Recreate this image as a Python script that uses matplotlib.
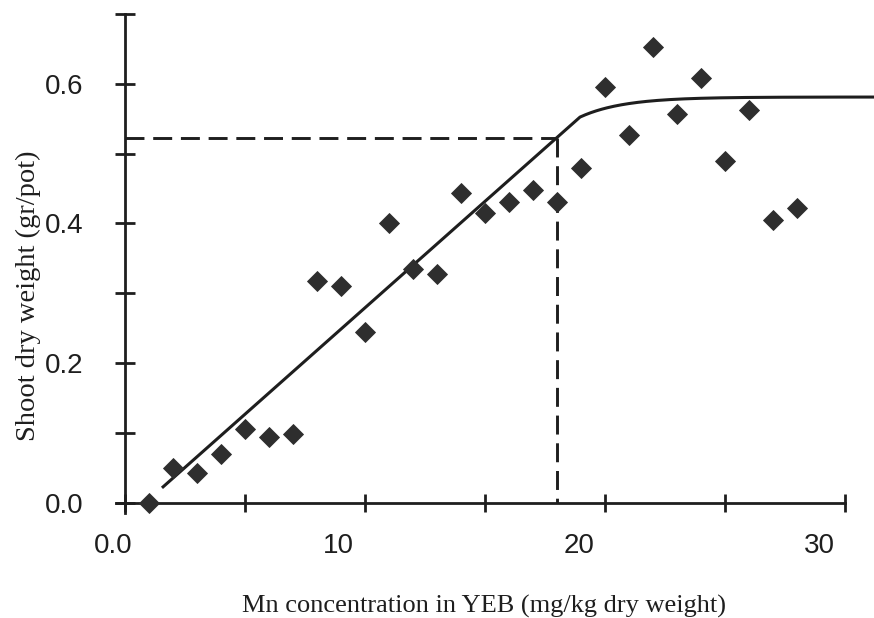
import numpy as np
import matplotlib
matplotlib.use('Agg')
import matplotlib.pyplot as plt
from matplotlib.ticker import FixedLocator, FixedFormatter, NullFormatter

# Observed points (Mn in YEB vs shoot dry weight)
mn_conc = [1, 2, 3, 4, 5, 6, 7, 8, 9, 10, 11, 12, 13, 14,
           15, 16, 17, 18, 19, 20, 21, 22, 23, 24, 25, 26, 27, 28]
shoot_dw = [0.000, 0.050, 0.042, 0.069, 0.105, 0.094, 0.098, 0.317, 0.310, 0.244,
            0.400, 0.334, 0.327, 0.443, 0.415, 0.431, 0.448, 0.430, 0.480, 0.595,
            0.527, 0.653, 0.557, 0.608, 0.489, 0.562, 0.405, 0.422]

# Linear-plateau fit
slope = 0.0305
intercept = -0.026
plateau = 0.581
kink_x = 18.96
bend = 0.55
fit_start = 1.54

x_tick_labels = ['0.0', '10', '20', '30']
y_tick_labels = ['0.0', '', '0.2', '', '0.4', '', '0.6', '']

# layout of the scanned axis (labels sit off the tick marks)
x_label_pos = [-0.5, 8.9, 18.9, 28.95]
x_major = np.arange(0, 31, 5)
y_major = np.arange(0, 0.71, 0.1)

ink = '#1e1e1e'

fig = plt.figure(figsize=(8.74, 6.18), dpi=100)
ax = fig.add_axes([0.12654, 0.15866, 0.8732, 0.8413])
ax.set_xlim(-0.6, 31.2)
ax.set_ylim(-0.025, 0.72)

# fitted curve
xs = np.linspace(fit_start, 31.5, 400)
y_kink = intercept + slope * kink_x
ys = np.where(xs < kink_x, intercept + slope * xs,
              plateau - (plateau - y_kink) * np.exp(-bend * (xs - kink_x)))
ax.plot(xs, ys, color=ink, lw=2.2, solid_capstyle='butt')

# critical concentration (90 % of maximum yield)
crit_y = 0.9 * plateau
crit_x = (crit_y - intercept) / slope
h, = ax.plot([0, crit_x], [crit_y, crit_y], color=ink, lw=2.1)
v, = ax.plot([crit_x, crit_x], [crit_y, 0], color=ink, lw=2.1)
for ln in (h, v):
    ln.set_dashes((6.5, 3))

ax.plot(mn_conc, shoot_dw, linestyle='none', marker='D', ms=10.5,
        color='#2e2e2e', mec='#2e2e2e', mew=0.6, zorder=3, clip_on=False)

# axes styling
for side in ('top', 'right'):
    ax.spines[side].set_visible(False)
ax.spines['left'].set_position(('data', 0))
ax.spines['bottom'].set_position(('data', 0))
ax.spines['left'].set_bounds(-0.015, 0.7)
ax.spines['bottom'].set_bounds(-0.38, 30)
for side in ('left', 'bottom'):
    ax.spines[side].set_linewidth(2.0)
    ax.spines[side].set_color(ink)

ax.yaxis.set_major_locator(FixedLocator(y_major))
ax.yaxis.set_major_formatter(FixedFormatter(y_tick_labels))
ax.tick_params(axis='y', which='major', direction='inout', length=14.4,
               width=2, color=ink, pad=23, labelsize=20)

ax.xaxis.set_major_locator(FixedLocator(x_major))
ax.xaxis.set_major_formatter(NullFormatter())
ax.xaxis.set_minor_locator(FixedLocator(x_label_pos))
ax.xaxis.set_minor_formatter(FixedFormatter(x_tick_labels))
ax.tick_params(axis='x', which='major', direction='inout', length=12.5,
               width=2, color=ink)
ax.tick_params(axis='x', which='minor', length=0, pad=22, labelsize=20)

for lab in ax.get_xticklabels(which='both') + ax.get_yticklabels():
    lab.set_fontfamily('Liberation Sans')
    lab.set_color(ink)

fig.text(483.5 / 874, 5 / 618, 'Mn concentration in YEB (mg/kg dry weight)',
         ha='center', va='baseline', fontsize=19,
         family='Liberation Serif', color=ink)
fig.text(28 / 874, 1 - 296 / 618, 'Shoot dry weight (gr/pot)',
         ha='center', va='center', rotation=90, fontsize=20.5,
         family='Liberation Serif', color=ink)

fig.savefig('out.png', dpi=100)
